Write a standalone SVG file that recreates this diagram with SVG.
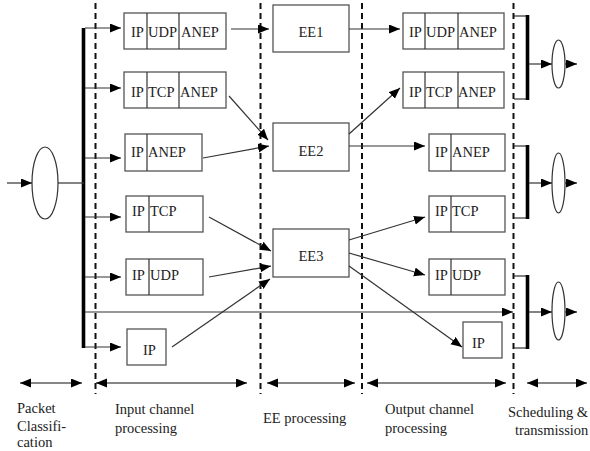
<svg xmlns="http://www.w3.org/2000/svg" width="590" height="451" viewBox="0 0 590 451">
<style>
.bx{fill:#fff;stroke:#555;stroke-width:1.3}
.dv{stroke:#333;stroke-width:1.2}
.ln{stroke:#333;stroke-width:1.2;fill:none}
.ar{stroke:#333;stroke-width:1.2;fill:none;marker-end:url(#ah)}
.da{stroke:#111;stroke-width:1.2;fill:none;marker-end:url(#ah);marker-start:url(#ah)}
.dash{stroke:#111;stroke-width:2;stroke-dasharray:6,4;fill:none}
.thick{stroke:#000;stroke-width:3.6;fill:none}
.el{fill:#fff;stroke:#333;stroke-width:1.2}
.t{font-family:'Liberation Serif','Times New Roman','DejaVu Serif',serif;font-size:14.5px;fill:#222}
</style>
<defs>
<marker id="ah" markerUnits="userSpaceOnUse" markerWidth="12" markerHeight="10" refX="11" refY="4.5" orient="auto-start-reverse">
<path d="M0,0 L11,4.5 L0,9 z" fill="#000"/>
</marker>
</defs>

<g id="dashed-lines">
<line class="dash" x1="95.5" y1="3" x2="95.5" y2="394"/>
<line class="dash" x1="260.5" y1="3" x2="260.5" y2="394"/>
<line class="dash" x1="362" y1="3" x2="362" y2="394"/>
<line class="dash" x1="513.5" y1="3" x2="513.5" y2="394"/>
</g>

<g id="classifier">
<ellipse class="el" cx="45" cy="183" rx="13" ry="36"/>
<line class="thick" x1="83.5" y1="28" x2="83.5" y2="348"/>
</g>

<g class="t" font-family="Liberation Serif, serif">
<g id="in1"><rect class="bx" x="124" y="13" width="102" height="36"/><line class="dv" x1="147" y1="13" x2="147" y2="49"/><line class="dv" x1="179" y1="13" x2="179" y2="49"/><text x="131" y="37">IP</text><text x="148" y="37">UDP</text><text x="181" y="37">ANEP</text></g>
<g id="in2"><rect class="bx" x="124" y="72" width="102" height="36"/><line class="dv" x1="147" y1="72" x2="147" y2="108"/><line class="dv" x1="179" y1="72" x2="179" y2="108"/><text x="131" y="97">IP</text><text x="148" y="97">TCP</text><text x="180" y="97">ANEP</text></g>
<g id="in3"><rect class="bx" x="125" y="134" width="77" height="37"/><line class="dv" x1="147" y1="134" x2="147" y2="171"/><text x="131" y="157">IP</text><text x="148" y="157">ANEP</text></g>
<g id="in4"><rect class="bx" x="126" y="196" width="77" height="36"/><line class="dv" x1="149" y1="196" x2="149" y2="232"/><text x="132" y="216">IP</text><text x="150" y="216">TCP</text></g>
<g id="in5"><rect class="bx" x="126" y="259" width="77" height="36"/><line class="dv" x1="149" y1="259" x2="149" y2="295"/><text x="132" y="280">IP</text><text x="150" y="280">UDP</text></g>
<g id="in6"><rect class="bx" x="127" y="329" width="39" height="36"/><text x="143" y="355">IP</text></g>

<g id="ee1"><rect class="bx" x="273" y="5" width="76" height="47"/><text x="311" y="37" text-anchor="middle">EE1</text></g>
<g id="ee2"><rect class="bx" x="273" y="123" width="76" height="48"/><text x="311" y="156" text-anchor="middle">EE2</text></g>
<g id="ee3"><rect class="bx" x="273" y="229" width="76" height="48"/><text x="311" y="261" text-anchor="middle">EE3</text></g>

<g id="out1"><rect class="bx" x="403" y="13" width="101" height="36"/><line class="dv" x1="425" y1="13" x2="425" y2="49"/><line class="dv" x1="458" y1="13" x2="458" y2="49"/><text x="409" y="37">IP</text><text x="426" y="37">UDP</text><text x="459" y="37">ANEP</text></g>
<g id="out2"><rect class="bx" x="403" y="72" width="101" height="36"/><line class="dv" x1="425" y1="72" x2="425" y2="108"/><line class="dv" x1="458" y1="72" x2="458" y2="108"/><text x="409" y="97">IP</text><text x="426" y="97">TCP</text><text x="458" y="97">ANEP</text></g>
<g id="out3"><rect class="bx" x="429" y="134" width="76" height="37"/><line class="dv" x1="451" y1="134" x2="451" y2="171"/><text x="435" y="157">IP</text><text x="452" y="157">ANEP</text></g>
<g id="out4"><rect class="bx" x="429" y="196" width="76" height="36"/><line class="dv" x1="451" y1="196" x2="451" y2="232"/><text x="435" y="216">IP</text><text x="452" y="216">TCP</text></g>
<g id="out5"><rect class="bx" x="429" y="259" width="76" height="36"/><line class="dv" x1="451" y1="259" x2="451" y2="295"/><text x="435" y="280">IP</text><text x="452" y="280">UDP</text></g>
<g id="out6"><rect class="bx" x="463" y="322" width="39" height="36"/><text x="472" y="348">IP</text></g>

<g id="labels">
<text x="17" y="413">Packet</text>
<text x="17" y="431">Classifi-</text>
<text x="17" y="447">cation</text>
<text x="115" y="414">Input channel</text>
<text x="115" y="433">processing</text>
<text x="263" y="423">EE processing</text>
<text x="385" y="414">Output channel</text>
<text x="385" y="433">processing</text>
<text x="508" y="417">Scheduling &amp;</text>
<text x="515" y="435">transmission</text>
</g>
</g>

<g id="sched1"><polyline class="ln" points="514,16 527,16"/><polyline class="ln" points="514,99 527,99"/><line class="thick" x1="527.5" y1="15" x2="527.5" y2="100"/><ellipse class="el" cx="558.5" cy="64" rx="6.5" ry="24"/></g>
<g id="sched2"><polyline class="ln" points="514,146 527,146"/><polyline class="ln" points="514,218 527,218"/><line class="thick" x1="527.5" y1="145" x2="527.5" y2="219"/><ellipse class="el" cx="558.5" cy="183" rx="6.5" ry="30"/></g>
<g id="sched3"><polyline class="ln" points="514,276 527,276"/><polyline class="ln" points="514,348 527,348"/><line class="thick" x1="527.5" y1="275" x2="527.5" y2="349"/><ellipse class="el" cx="558.5" cy="311" rx="6.5" ry="29"/></g>

<g id="connectors">
<line class="ar" x1="7" y1="183" x2="32" y2="183"/>
<line class="ln" x1="58" y1="183" x2="84" y2="183"/>
<line class="ar" x1="85" y1="28" x2="121" y2="28"/>
<line class="ar" x1="85" y1="88" x2="121" y2="88"/>
<line class="ar" x1="85" y1="158" x2="121" y2="158"/>
<line class="ar" x1="85" y1="217" x2="121" y2="217"/>
<line class="ar" x1="85" y1="277" x2="121" y2="277"/>
<line class="ar" x1="85" y1="347" x2="121" y2="347"/>
<line class="ar" x1="85" y1="312" x2="513" y2="312"/>

<line class="ar" x1="231" y1="29" x2="269" y2="29"/>
<line class="ar" x1="229" y1="96" x2="268" y2="140"/>
<line class="ar" x1="203" y1="158" x2="269" y2="146"/>
<line class="ar" x1="209" y1="217" x2="271" y2="251"/>
<line class="ar" x1="209" y1="277" x2="271" y2="266"/>
<line class="ar" x1="172" y1="347" x2="270" y2="279"/>

<line class="ar" x1="349" y1="29" x2="400" y2="29"/>
<line class="ar" x1="349" y1="134" x2="400" y2="88"/>
<line class="ar" x1="349" y1="146" x2="425" y2="146"/>
<line class="ar" x1="349" y1="240" x2="425" y2="217"/>
<line class="ar" x1="349" y1="253" x2="425" y2="275"/>
<line class="ar" x1="349" y1="266" x2="462" y2="347"/>

<line class="ar" x1="529" y1="64" x2="552" y2="64"/>
<line class="ar" x1="565" y1="64" x2="577" y2="64"/>
<line class="ar" x1="529" y1="183" x2="552" y2="183"/>
<line class="ar" x1="565" y1="183" x2="577" y2="183"/>
<line class="ar" x1="529" y1="312" x2="552" y2="312"/>
<line class="ar" x1="565" y1="312" x2="577" y2="312"/>

<line class="da" x1="20" y1="383" x2="82" y2="383"/>
<line class="da" x1="96" y1="383" x2="247" y2="383"/>
<line class="da" x1="267" y1="383" x2="355" y2="383"/>
<line class="da" x1="367" y1="383" x2="506" y2="383"/>
<line class="da" x1="527" y1="383" x2="587" y2="383"/>
</g>
</svg>
